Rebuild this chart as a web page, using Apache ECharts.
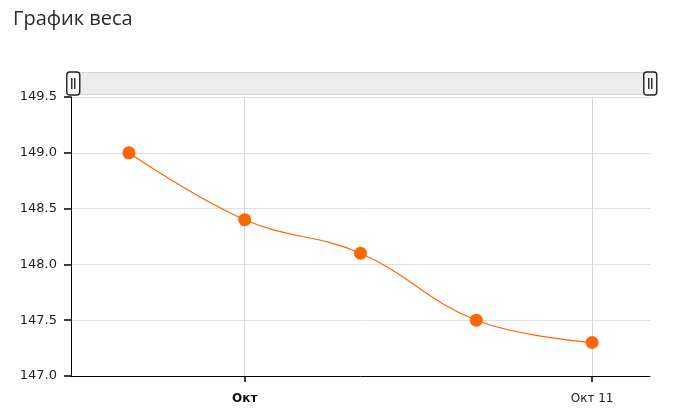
<!DOCTYPE html>
<html>
<head>
<meta charset="utf-8">
<script src="https://cdn.jsdelivr.net/npm/echarts@6/dist/echarts.min.js"></script>
<style>
  html, body { margin: 0; padding: 0; background: #fff; }
  #weightChart { width: 680px; height: 414px; }
</style>
</head>
<body>
<div id="weightChart"></div>
<script>
// данные графика
var dates = ['2023-09-27T16:00', '2023-10-01T00:00', '2023-10-04T08:00', '2023-10-07T16:00', '2023-10-11T00:00'];
var weights = [149.0, 148.4, 148.1, 147.5, 147.3];
var tickDates = ['2023-10-01T00:00', '2023-10-11T00:00'];
var axisRange = ['2023-09-26T00:00', '2023-10-12T16:00'];
var months = ['Янв', 'Фев', 'Мар', 'Апр', 'Май', 'Июн', 'Июл', 'Авг', 'Сен', 'Окт', 'Ноя', 'Дек'];

function ts(s) { return new Date(s).getTime(); }

var myChart = echarts.init(document.getElementById('weightChart'));
myChart.setOption({
    title: {
        text: 'График веса',
        left: 8,
        top: 4,
        textStyle: { fontFamily: 'Open Sans', fontSize: 20, fontWeight: 'normal', color: '#2b2b2b' }
    },
    grid: { left: 71, right: 30, top: 97, bottom: 38, containLabel: false },
    dataZoom: [{
        type: 'slider',
        xAxisIndex: 0,
        top: 72,
        height: 23,
        left: 71,
        right: 30,
        showDetail: false,
        showDataShadow: false,
        brushSelect: false,
        moveHandleSize: 0,
        backgroundColor: 'rgba(0,0,0,0)',
        fillerColor: '#ececec',
        borderColor: '#d9d9d9',
        borderRadius: 0,
        handleIcon: 'path://M3,0 H10 Q13,0 13,3 V20 Q13,23 10,23 H3 Q0,23 0,20 V3 Q0,0 3,0 Z M5,6 V17 M8,6 V17',
        handleSize: '100%',
        handleStyle: { color: '#fafafa', borderColor: '#222', borderWidth: 1.4 },
        emphasis: { handleStyle: { color: '#fafafa', borderColor: '#222' } }
    }],
    xAxis: {
        type: 'value',
        min: ts(axisRange[0]),
        max: ts(axisRange[1]),
        axisLine: { show: true, lineStyle: { color: '#000', width: 1 } },
        axisTick: { show: true, inside: false, length: 6, lineStyle: { color: '#000', width: 1.5 }, customValues: tickDates.map(ts) },
        splitLine: { show: true, lineStyle: { color: '#d6d6d6', width: 1 } },
        axisLabel: {
            customValues: tickDates.map(ts),
            margin: 17,
            fontFamily: 'DejaVu Sans',
            fontSize: 12,
            color: '#222',
            formatter: function (value) {
                var d = new Date(value);
                if (d.getDate() === 1) {
                    return '{b|' + months[d.getMonth()] + '}';
                }
                return months[d.getMonth()] + ' ' + d.getDate();
            },
            rich: { b: { fontWeight: 'bold', fontFamily: 'DejaVu Sans', fontSize: 12, color: '#111' } }
        }
    },
    yAxis: {
        type: 'value',
        min: 147,
        max: 149.5,
        interval: 0.5,
        axisLine: { show: true, lineStyle: { color: '#000', width: 1 } },
        axisTick: { show: true, inside: false, length: 7, lineStyle: { color: '#000', width: 1.5 } },
        splitLine: { lineStyle: { color: '#e0e0e0' } },
        axisLabel: {
            margin: 14,
            fontFamily: 'DejaVu Sans',
            fontSize: 13,
            color: '#222',
            formatter: function (v) { return v.toFixed(1); }
        }
    },
    series: [{
        name: 'Вес',
        type: 'line',
        smooth: 0.4,
        symbol: 'circle',
        symbolSize: 13,
        itemStyle: { color: '#ff6600' },
        lineStyle: { color: '#ff6600', width: 1.2 },
        data: dates.map(function (d, i) { return [ts(d), weights[i]]; })
    }]
});
</script>
</body>
</html>
